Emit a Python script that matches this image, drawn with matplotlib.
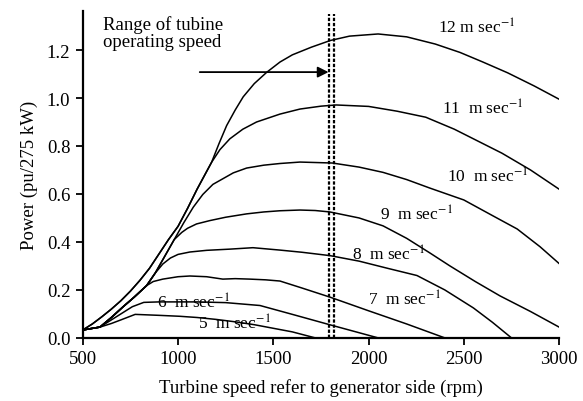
import matplotlib
matplotlib.use("Agg")
import matplotlib.pyplot as plt

plt.rcParams['font.family'] = ['Liberation Serif', 'DejaVu Serif']
plt.rcParams['mathtext.fontset'] = 'stix'

# turbine speed (rpm) / power (pu)
speed_5 = [500, 590, 650, 700, 775, 900, 1010, 1100, 1200, 1300, 1400, 1500, 1600, 1720]
power_5 = [0.033, 0.045, 0.06, 0.075, 0.098, 0.094, 0.09, 0.085, 0.077, 0.067, 0.055, 0.04, 0.025, 0.0]

speed_6 = [500, 590, 630, 700, 760, 820, 900, 1000, 1100, 1250, 1430, 1600, 1800, 2050]
power_6 = [0.033, 0.045, 0.065, 0.1, 0.13, 0.148, 0.15, 0.15, 0.15, 0.147, 0.135, 0.098, 0.054, 0.0]

speed_7 = [500, 590, 650, 712, 770, 835, 870, 920, 1000, 1062, 1150, 1235, 1300, 1377, 1460,
           1535, 1650, 1797, 2000, 2200, 2400]
power_7 = [0.033, 0.045, 0.085, 0.13, 0.17, 0.218, 0.235, 0.245, 0.255, 0.258, 0.255, 0.245, 0.247,
           0.245, 0.242, 0.237, 0.208, 0.17, 0.113, 0.058, 0.0]

speed_8 = [500, 590, 650, 712, 770, 835, 880, 920, 960, 1000, 1062, 1150, 1272, 1393, 1535, 1650,
           1797, 1950, 2100, 2254, 2400, 2550, 2650, 2750]
power_8 = [0.033, 0.045, 0.085, 0.13, 0.17, 0.218, 0.27, 0.308, 0.333, 0.348, 0.358, 0.365, 0.37,
           0.376, 0.366, 0.357, 0.343, 0.32, 0.29, 0.26, 0.2, 0.125, 0.065, 0.0]

speed_9 = [500, 590, 650, 712, 770, 835, 880, 930, 980, 1020, 1050, 1097, 1167, 1250, 1360, 1450,
           1535, 1640, 1720, 1797, 1950, 2076, 2200, 2320, 2427, 2560, 2690, 2850, 3000]
power_9 = [0.033, 0.045, 0.085, 0.13, 0.17, 0.218, 0.27, 0.34, 0.41, 0.44, 0.457, 0.475, 0.489,
           0.503, 0.517, 0.525, 0.53, 0.533, 0.531, 0.525, 0.5, 0.467, 0.415, 0.355, 0.3, 0.235,
           0.175, 0.11, 0.045]

speed_10 = [500, 590, 650, 712, 770, 835, 880, 930, 980, 1030, 1080, 1130, 1183, 1290, 1360, 1450,
            1535, 1640, 1810, 1950, 2076, 2200, 2320, 2500, 2650, 2780, 2900, 3000]
power_10 = [0.033, 0.045, 0.085, 0.13, 0.17, 0.218, 0.27, 0.34, 0.41, 0.48, 0.545, 0.598, 0.64,
            0.688, 0.708, 0.72, 0.727, 0.733, 0.729, 0.712, 0.69, 0.66, 0.625, 0.575, 0.51,
            0.454, 0.38, 0.31]

speed_11 = [500, 550, 600, 650, 700, 750, 800, 850, 900, 950, 1000, 1050, 1100, 1176, 1220, 1272,
            1340, 1412, 1535, 1640, 1750, 1830, 2000, 2150, 2300, 2450, 2600, 2700, 2850, 3000]
power_11 = [0.033, 0.058, 0.088, 0.12, 0.155, 0.195, 0.24, 0.29, 0.35, 0.41, 0.465, 0.54, 0.62,
            0.732, 0.785, 0.83, 0.87, 0.9, 0.933, 0.954, 0.966, 0.971, 0.965, 0.945, 0.92, 0.87,
            0.81, 0.77, 0.7, 0.62]

speed_12 = [500, 550, 600, 650, 700, 750, 800, 850, 900, 950, 1000, 1050, 1100, 1176, 1215, 1255,
            1300, 1342, 1400, 1465, 1535, 1600, 1700, 1800, 1900, 2050, 2200, 2350, 2480, 2600,
            2730, 2870, 3000]
power_12 = [0.033, 0.058, 0.088, 0.12, 0.155, 0.195, 0.24, 0.29, 0.35, 0.41, 0.465, 0.54, 0.62,
            0.732, 0.81, 0.885, 0.95, 1.005, 1.06, 1.107, 1.15, 1.18, 1.212, 1.24, 1.258, 1.267,
            1.255, 1.225, 1.19, 1.15, 1.105, 1.05, 0.995]

curves = [(speed_5, power_5), (speed_6, power_6), (speed_7, power_7), (speed_8, power_8),
          (speed_9, power_9), (speed_10, power_10), (speed_11, power_11), (speed_12, power_12)]

# curve labels: text, x, y
label_text = ['5  m sec$^{-1}$', '6  m sec$^{-1}$', '7  m sec$^{-1}$', '8  m sec$^{-1}$',
              '9  m sec$^{-1}$', '10  m sec$^{-1}$', '11  m sec$^{-1}$', '12 m sec$^{-1}$']
label_x = [1104, 888, 1997, 1913, 2060, 2411, 2385, 2365]
label_y = [0.063, 0.15, 0.163, 0.35, 0.517, 0.675, 0.958, 1.296]

range_lo, range_hi = 1790, 1820
x_ticks = [500, 1000, 1500, 2000, 2500, 3000]
y_ticks = [0.0, 0.2, 0.4, 0.6, 0.8, 1.0, 1.2]

fig = plt.figure(figsize=(5.83, 4.02), dpi=100)
ax = fig.add_axes([0.142, 0.157, 0.817, 0.813])

for sp, pw in curves:
    ax.plot(sp, pw, color='black', lw=1.1)

for txt, lx, ly in zip(label_text, label_x, label_y):
    ax.text(lx, ly, txt, fontsize=12.5, va='center', ha='left')

# operating speed range
for xv in (range_lo, range_hi):
    ax.plot([xv, xv], [0, 1.35], color='black', lw=1.6, linestyle=(0, (1.5, 0.8)))

ax.annotate('', xy=(range_lo, 1.108), xytext=(1114, 1.108),
            arrowprops=dict(arrowstyle='-|>', color='black', lw=1.3, mutation_scale=16,
                            shrinkA=0, shrinkB=0))
ax.text(605, 1.345, 'Range of tubine\noperating speed', fontsize=13.5, va='top', ha='left',
        linespacing=1.0)

ax.set_xlim(500, 3000)
ax.set_ylim(0, 1.3625)
ax.set_xticks(x_ticks)
ax.set_yticks(y_ticks)
ax.set_yticklabels([f'{v:.1f}' for v in y_ticks])
ax.tick_params(labelsize=13.5, direction='out', length=5, width=1.3, pad=4)
for s in ['top', 'right']:
    ax.spines[s].set_visible(False)
for s in ['left', 'bottom']:
    ax.spines[s].set_linewidth(1.6)

ax.set_xlabel('Turbine speed refer to generator side (rpm)', fontsize=13.5, labelpad=8)
ax.set_ylabel('Power (pu/275 kW)', fontsize=13.5, labelpad=6)

fig.savefig('out.png', dpi=100)
